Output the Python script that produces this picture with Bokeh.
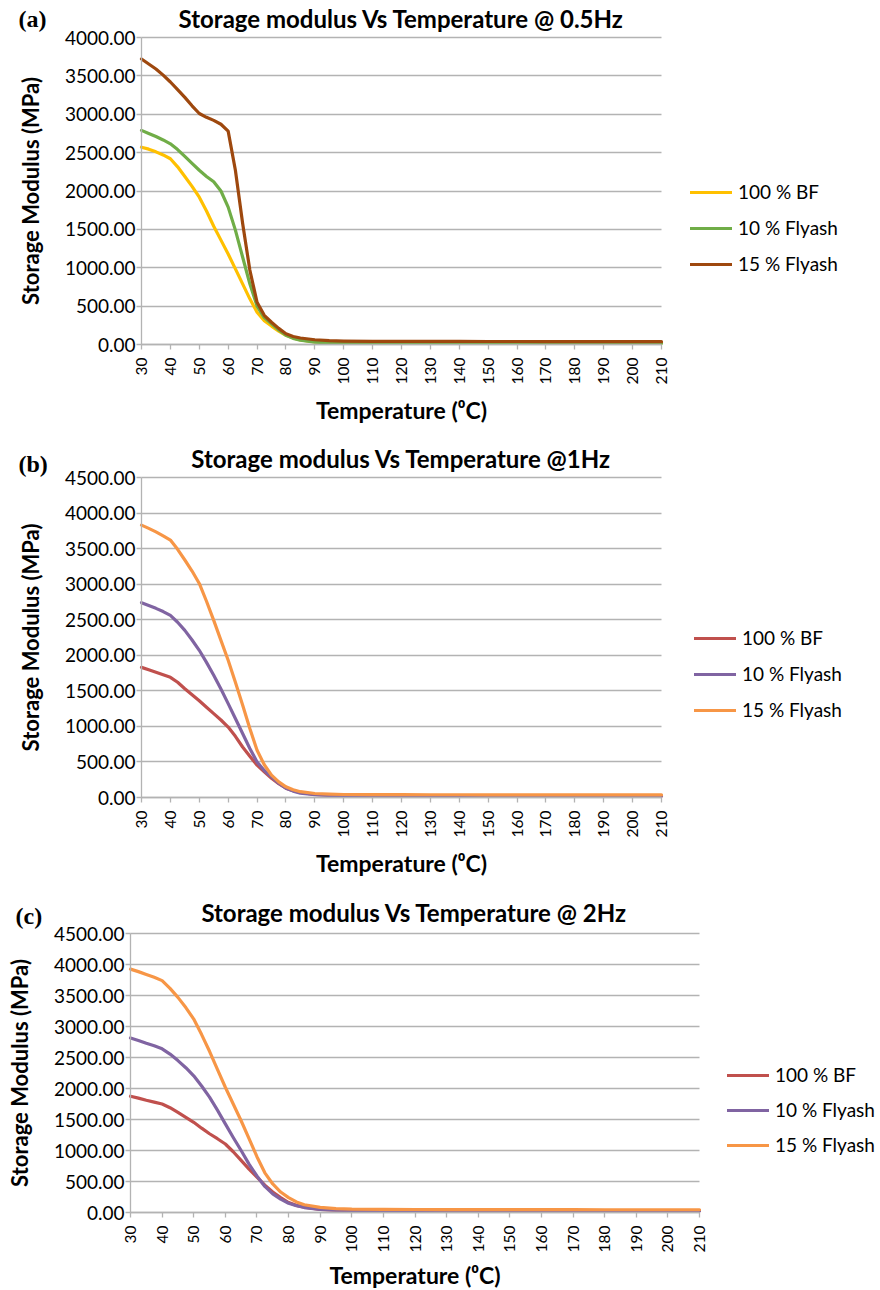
import math
from bokeh.plotting import figure
from bokeh.models import (Range1d, FixedTicker, PrintfTickFormatter, Legend,
                          LegendItem, Label)
from bokeh.layouts import column
from bokeh.embed import file_html
from bokeh.resources import INLINE

# ---------------- data ----------------
temps = [30, 32.5, 35, 37.5, 40, 42.5, 45, 47.5, 50, 52.5, 55, 57.5, 60, 62.5,
         65, 67.5, 70, 72.5, 75, 77.5, 80, 82.5, 85, 90, 95, 100, 110, 120,
         130, 140, 150, 160, 170, 180, 190, 200, 210]
x_ticks = [30, 40, 50, 60, 70, 80, 90, 100, 110, 120, 130, 140, 150, 160,
           170, 180, 190, 200, 210]
series_names = ["100 % BF", "10 % Flyash", "15 % Flyash"]

# (a) 0.5 Hz
a_bf = [2570, 2545, 2510, 2470, 2420, 2315, 2190, 2060, 1920, 1740, 1540,
        1360, 1180, 985, 790, 595, 420, 310, 240, 175, 120, 85, 60, 35, 25, 22,
        20, 20, 20, 19, 19, 19, 18, 18, 18, 18, 18]
a_fa10 = [2790, 2750, 2710, 2665, 2615, 2540, 2450, 2360, 2270, 2190, 2120,
          2000, 1790, 1490, 1140, 790, 500, 350, 270, 190, 120, 80, 55, 30, 22,
          18, 17, 17, 17, 16, 16, 16, 16, 15, 15, 15, 15]
a_fa15 = [3720, 3655, 3590, 3510, 3420, 3320, 3220, 3110, 3010, 2960, 2920,
          2870, 2780, 2270, 1580, 970, 550, 380, 290, 210, 140, 105, 85, 62, 50,
          45, 42, 41, 40, 40, 39, 39, 38, 38, 38, 37, 37]

# (b) 1 Hz
b_bf = [1830, 1795, 1760, 1725, 1690, 1620, 1530, 1445, 1360, 1270, 1180,
        1090, 990, 860, 710, 580, 455, 360, 270, 195, 130, 95, 70, 42, 32, 28,
        26, 25, 25, 24, 24, 24, 23, 23, 22, 22, 22]
b_fa10 = [2740, 2700, 2660, 2615, 2560, 2465, 2350, 2215, 2070, 1900, 1720,
          1525, 1320, 1110, 900, 690, 500, 380, 290, 200, 130, 90, 62, 40, 30,
          26, 24, 24, 23, 23, 23, 22, 22, 22, 21, 21, 21]
b_fa15 = [3830, 3785, 3735, 3680, 3620, 3490, 3340, 3185, 3010, 2760, 2490,
          2210, 1930, 1620, 1300, 970, 665, 460, 315, 220, 150, 110, 82, 56, 47,
          42, 40, 40, 39, 39, 38, 38, 38, 37, 37, 36, 36]

# (c) 2 Hz
c_bf = [1875, 1845, 1810, 1780, 1750, 1690, 1615, 1535, 1455, 1360, 1270,
        1190, 1105, 980, 840, 700, 570, 440, 330, 240, 160, 115, 85, 50, 38, 33,
        30, 30, 29, 29, 29, 28, 28, 28, 28, 27, 27]
c_fa10 = [2815, 2775, 2730, 2690, 2640, 2555, 2450, 2335, 2205, 2040, 1860,
          1650, 1430, 1210, 1000, 780, 590, 420, 300, 215, 150, 110, 80, 48, 36,
          32, 30, 30, 29, 29, 28, 28, 28, 28, 27, 27, 27]
c_fa15 = [3925, 3885, 3840, 3795, 3740, 3615, 3470, 3305, 3120, 2870, 2600,
          2310, 2020, 1750, 1480, 1190, 900, 640, 460, 330, 240, 170, 125, 82,
          64, 55, 50, 48, 47, 46, 46, 45, 45, 44, 44, 44, 44]

colors_a = ["#FFC000", "#70AD47", "#9E480E"]
colors_bc = ["#C0504D", "#8064A2", "#F79646"]

FONT = "Lato"
GRID = "#b3b3b3"
W = 880
X0, X1 = 30, 210


def make_panel(height, px0, px1, py_top, py_zero, ymax, series, colors,
               title, title_xy, tag, tag_xy, leg_xy, leg_spacing, xlab_standoff):
    # pixel geometry of the plotting area -> data ranges of a full-canvas frame
    kx = (px1 - px0) / (X1 - X0)
    ky = (py_zero - py_top) / ymax
    xr = Range1d(X0 - px0 / kx, X1 + (W - px1) / kx)
    yr = Range1d(-(height - py_zero) / ky, ymax + py_top / ky)

    p = figure(width=W, height=height, output_backend="svg",
               toolbar_location=None, title=None, x_range=xr, y_range=yr,
               min_border=0, min_border_left=0, min_border_right=0,
               min_border_top=0, min_border_bottom=0)
    p.outline_line_color = None
    p.background_fill_color = "white"
    p.border_fill_color = "white"

    p.xgrid.visible = False
    p.ygrid.grid_line_color = GRID
    p.ygrid.grid_line_width = 1.3
    p.ygrid.bounds = (0, ymax)
    p.ygrid.cross_bounds = (X0, X1)

    p.xaxis.fixed_location = 0
    p.xaxis.bounds = (X0, X1)
    p.yaxis.fixed_location = X0
    p.yaxis.bounds = (0, ymax)
    p.xaxis.ticker = FixedTicker(ticks=x_ticks)
    p.yaxis.ticker = FixedTicker(ticks=list(range(0, ymax + 1, 500)))
    p.yaxis.formatter = PrintfTickFormatter(format="%.2f")
    p.xaxis.major_label_orientation = math.pi / 2

    for ax in (p.xaxis, p.yaxis):
        ax.axis_line_color = GRID
        ax.axis_line_width = 1.3
        ax.major_tick_line_color = GRID
        ax.major_tick_line_width = 1.3
        ax.major_tick_in = 0
        ax.major_tick_out = 5
        ax.minor_tick_line_color = None
        ax.major_label_text_font = FONT
        ax.major_label_text_color = "black"
        ax.axis_label_text_font = FONT
        ax.axis_label_text_font_style = "bold"
        ax.axis_label_text_color = "black"
    p.yaxis.axis_label_text_font_size = "22px"
    p.xaxis.axis_label_text_font_size = "23px"
    p.yaxis.major_label_text_font_size = "19px"
    p.xaxis.major_label_text_font_size = "15.5px"
    p.yaxis.major_label_standoff = 1
    p.xaxis.major_label_standoff = 8
    p.yaxis.axis_label_standoff = 18
    p.xaxis.axis_label_standoff = xlab_standoff
    p.yaxis.axis_label = "Storage Modulus (MPa)"
    p.xaxis.axis_label = "Temperature (\u2070C)"

    items = []
    for name, ys, col in zip(series_names, series, colors):
        r = p.line(temps, ys, line_color=col, line_width=3.2,
                   line_join="round", line_cap="round")
        items.append(LegendItem(label=name, renderers=[r]))

    legend = Legend(items=items, location=(leg_xy[0], height - leg_xy[1]),
                    orientation="vertical", label_text_font=FONT,
                    label_text_font_size="19px", label_text_color="black",
                    glyph_width=42, glyph_height=20, label_height=20,
                    spacing=leg_spacing, label_standoff=6, padding=0, margin=0,
                    border_line_color=None, background_fill_alpha=0)
    p.add_layout(legend)

    p.add_layout(Label(x=title_xy[0], y=height - title_xy[1], x_units="screen",
                       y_units="screen", text=title, text_align="center",
                       text_baseline="middle", text_font=FONT,
                       text_font_style="bold", text_font_size="24px",
                       text_color="black"))
    p.add_layout(Label(x=tag_xy[0], y=height - tag_xy[1], x_units="screen",
                       y_units="screen", text=tag, text_align="left",
                       text_baseline="middle", text_font="Liberation Serif",
                       text_font_style="bold", text_font_size="24px",
                       text_color="black"))
    return p


# legend location given as (left x, bottom y of legend box) in canvas pixels
pa = make_panel(440, 141, 661, 37, 344, 4000, [a_bf, a_fa10, a_fa15], colors_a,
                "Storage modulus Vs Temperature @ 0.5Hz", (401, 18),
                "(a)", (18, 18), (690, 275), 13, 9)
pb = make_panel(440, 141, 661, 37, 357, 4500, [b_bf, b_fa10, b_fa15], colors_bc,
                "Storage modulus Vs Temperature @1Hz", (401, 18),
                "(b)", (18, 23), (694, 281), 13, 9)
pc = make_panel(410, 130, 699, 53, 332, 4500, [c_bf, c_fa10, c_fa15], colors_bc,
                "Storage modulus Vs Temperature @ 2Hz", (414, 32),
                "(c)", (15, 35), (727, 276), 12, 6)

layout = column(pa, pb, pc, spacing=0)
open("out.html", "w").write(file_html(layout, INLINE))
